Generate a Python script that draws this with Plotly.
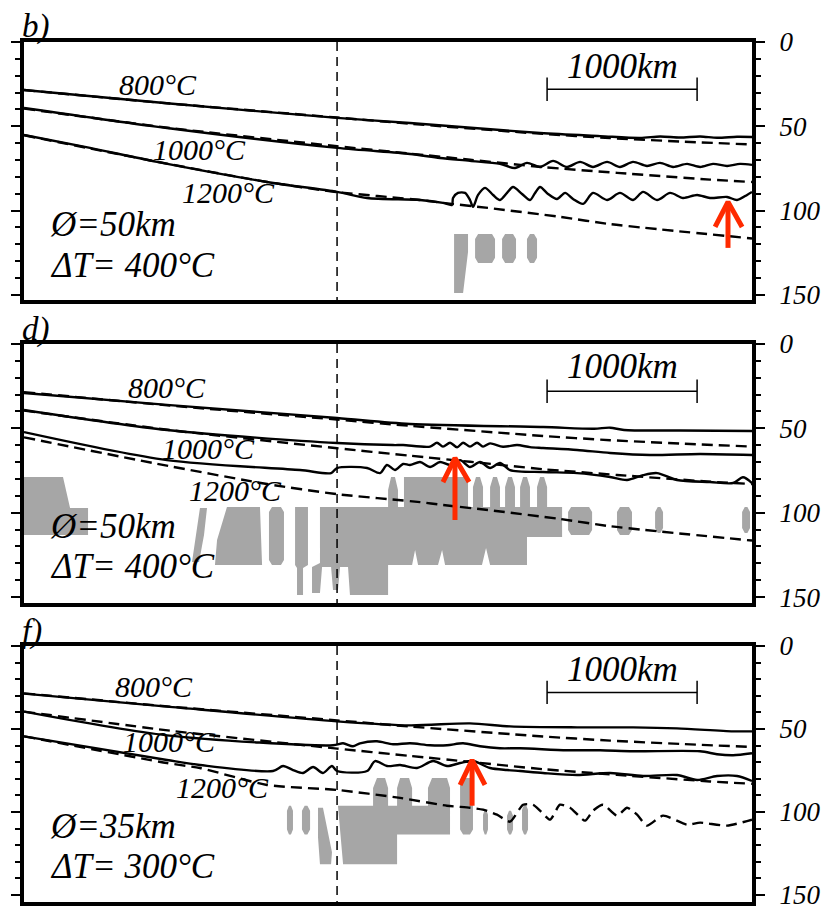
import plotly.graph_objects as go

W, H = 830, 912

# ------------------------------------------------------------------ data
X_MAX = 4853                      # km shown in each section
DEPTH_MAX = [153.0, 153.5, 154.2]  # km at bottom of each panel
MAJOR_TICKS = [0, 50, 100, 150]
MINOR_TICKS = [0, 10, 20, 30, 40, 50, 60, 70, 80, 90, 100, 110, 120, 130, 140, 150]
DIVIDE_X = 2087                   # vertical dashed marker (km)
SCALE_BAR = [3487, 4487]          # 1000 km bar
SCALE_DEPTH = 28
SCALE_LABEL_DEPTH = [14.8, 13.6, 14.3]

panel_letters = ["b)", "d)", "f)"]
phi_labels = ["Ø=50km", "Ø=50km", "Ø=35km"]
dT_labels = ["ΔT= 400°C", "ΔT= 400°C", "ΔT= 300°C"]
iso_names = ["800°C", "1000°C", "1200°C"]

# reference (dashed) isotherms
ref800_x = [0, 973, 2087, 2573, 3460, 3907, 4373, 4853]
ref800_d = [28.5, 36.5, 44.8, 48.5, 54.5, 57.0, 59.0, 60.8]
ref1000_x = [0, 973, 2087, 2573, 2973, 3460, 3953, 4573, 4853]
ref1000_d = [39.5, 51.0, 61.8, 66.2, 69.8, 74.2, 77.6, 81.6, 83.0]
ref1200_x = [0, 887, 1620, 2087, 2640, 2793, 3093, 3573, 3907, 4853]
ref1200_d = [55.3, 71.0, 83.0, 89.0, 93.7, 95.4, 98.4, 103.7, 108.0, 116.5]

# ---- panel b
b_800_x = [0, 953, 2087, 2573, 3440, 3840, 4107, 4240, 4373, 4507, 4620, 4753, 4853]
b_800_d = [28.5, 36.3, 45.0, 48.0, 54.0, 55.8, 56.9, 56.0, 56.6, 56.0, 56.8, 56.2, 56.3]
b_1000_x = [0, 953, 2087, 2573, 2773, 2973, 3173, 3273, 3353, 3440, 3527, 3620, 3707,
            3793, 3887, 3973, 4060, 4153, 4240, 4327, 4420, 4507, 4593, 4687, 4773, 4853]
b_1000_d = [39.1, 51.0, 62.8, 66.4, 68.8, 70.5, 72.3, 74.7, 71.7, 74.1, 70.5, 74.1, 71.1,
            74.1, 71.1, 74.1, 71.1, 73.5, 71.7, 74.1, 72.3, 74.1, 72.3, 73.5, 72.3, 72.9]
b_1200_x = [0, 440, 887, 1620, 2087, 2287, 2640, 2793, 2853, 2860, 2893, 2940, 2973, 2993,
            3027, 3073, 3127, 3173, 3220, 3260, 3320, 3373, 3407, 3440, 3493, 3553, 3607,
            3660, 3727, 3793, 3887, 3973, 4060, 4127, 4220, 4307, 4393, 4487, 4573, 4687,
            4753, 4820, 4853]
b_1200_d = [55.1, 62.8, 71.1, 83.0, 88.9, 92.5, 93.7, 95.4, 96.6, 92.5, 89.5, 89.5, 93.7, 97.8,
            90.7, 86.5, 90.7, 93.7, 89.5, 86.0, 90.1, 93.7, 89.5, 86.0, 90.1, 93.1, 89.5,
            93.1, 96.0, 89.5, 93.7, 89.5, 93.7, 88.9, 93.7, 89.5, 92.5, 90.7, 92.5, 91.9,
            93.7, 90.7, 88.9]
b_blocks = [[3007, 3140, 113.8, 131.0], [3187, 3280, 113.8, 131.0], [3353, 3420, 113.8, 131.0]]
b_polys = [
    ([2867, 2960, 2960, 2927, 2867], [113.8, 113.8, 124.5, 148.8, 148.8]),
]
b_arrow = dict(x=4693, tail=122.1, tip=94.8, arm_x=[4607, 4787], arm_d=109.7)

# ---- panel d
d_800_x = [0, 973, 2087, 2573, 3460, 3800, 3907, 4000, 4373, 4853]
d_800_d = [29.0, 36.2, 43.9, 47.4, 49.2, 50.2, 49.6, 51.0, 51.3, 51.6]
d_1000_x = [0, 953, 2087, 2460, 2527, 2707, 2753, 2793, 2840, 2887, 2927, 2973, 3020, 3060,
            3107, 3193, 3287, 3373, 3460, 3687, 3907, 4173, 4507, 4853]
d_1000_d = [39.1, 51.0, 58.7, 59.9, 59.9, 60.8, 58.5, 60.8, 58.5, 61.2, 58.5, 60.8, 58.5, 60.8,
            58.9, 60.9, 59.9, 61.1, 61.6, 62.8, 64.6, 65.8, 65.2, 65.8]
d_1200_x = [0, 953, 1840, 2047, 2087, 2287, 2373, 2420, 2473, 2527, 2573, 2640, 2707, 2773,
            2840, 2907, 2973, 3040, 3107, 3173, 3240, 3460, 3687, 3907, 4020, 4127, 4220,
            4353, 4573, 4727, 4793, 4853]
d_1200_d = [52.2, 68.8, 74.7, 76.5, 73.5, 73.5, 76.5, 71.7, 74.7, 71.1, 71.7, 69.9, 72.9, 69.9,
            71.7, 68.8, 72.9, 69.9, 73.5, 70.5, 74.7, 75.9, 76.5, 78.8, 80.6, 77.7, 76.5,
            80.6, 81.8, 82.4, 79.0, 82.4]
d_blocks = [[1633, 1733, 96.6, 131.0], [3627, 3787, 96.6, 113.2], [3953, 4053, 96.6, 113.2],
            [4207, 4260, 96.6, 112.0], [4787, 4840, 96.6, 112.0]]
d_polys = [
    ([0, 260, 307, 427, 427, 0], [78.8, 78.8, 97.2, 97.2, 113.2, 113.2]),
    ([1173, 1220, 1200, 1167, 1120, 1147], [97.2, 97.2, 113.2, 129.2, 129.2, 113.2]),
    ([1353, 1573, 1587, 1273, 1287], [96.6, 96.6, 131.0, 131.0, 116.2]),
    ([1807, 1893, 1893, 1860, 1860, 1820, 1820, 1807],
     [96.6, 96.6, 131.0, 132.8, 148.8, 148.8, 132.8, 131.0]),
    ([1973, 2427, 2427, 2447, 2473, 2493, 2493, 2533, 2533, 2960, 2960,
      2993, 2993, 3013, 3040, 3060, 3060,
      3107, 3107, 3127, 3153, 3173, 3173,
      3207, 3207, 3227, 3253, 3273, 3273,
      3307, 3307, 3327, 3353, 3373, 3373,
      3420, 3420, 3440, 3467, 3487, 3487,
      3587, 3587, 3353, 3353, 3107, 3080, 3053, 2807, 2787, 2760, 2627, 2607, 2587,
      2427, 2427, 2173, 2160, 2107, 2093, 2060, 2047, 1987, 1973, 1920, 1920, 1973],
     [96.6, 96.6, 86.5, 78.8, 78.8, 86.5, 96.6, 96.6, 78.8, 78.8, 96.6,
      96.6, 84.8, 78.8, 78.8, 84.8, 96.6,
      96.6, 84.8, 78.8, 78.8, 84.8, 96.6,
      96.6, 84.8, 78.8, 78.8, 84.8, 96.6,
      96.6, 84.8, 78.8, 78.8, 84.8, 96.6,
      96.6, 84.8, 78.8, 78.8, 84.8, 96.6,
      96.6, 114.4, 114.4, 131.0, 131.0, 120.9, 131.0, 131.0, 122.1, 131.0, 131.0, 122.1, 131.0,
      131.0, 148.8, 148.8, 132.2, 132.2, 145.8, 145.8, 132.2, 132.2, 147.6, 147.6, 132.2, 129.8]),
]
d_arrow = dict(x=2873, tail=104.3, tip=67.6, arm_x=[2793, 2967], arm_d=81.8)

# ---- panel f
f_800_x = [0, 953, 2087, 2573, 2973, 3240, 3687, 4060, 4353, 4727, 4853]
f_800_d = [28.7, 36.5, 45.4, 47.8, 46.6, 48.4, 49.0, 49.0, 49.6, 51.4, 51.4]
f_1000_x = [0, 953, 2060, 2127, 2193, 2240, 2353, 2460, 2573, 2707, 2820, 2927, 3040, 3173,
            3307, 3620, 3840, 4060, 4507, 4620, 4727, 4853]
f_1000_d = [39.5, 53.8, 59.8, 58.6, 60.4, 58.6, 57.4, 59.2, 58.6, 59.8, 59.8, 58.6, 60.4, 61.6,
            61.6, 62.8, 62.8, 63.4, 63.4, 65.2, 65.8, 64.6]
f_1200_x = [0, 953, 1173, 1660, 1727, 1793, 1860, 1927, 1993, 2053, 2087, 2287, 2340, 2420,
            2507, 2620, 2727, 2820, 2907, 2993, 3107, 3220, 3307, 3460, 3687, 3907, 4127,
            4353, 4487, 4620, 4753, 4853]
f_1200_d = [54.4, 68.7, 71.7, 75.3, 72.3, 74.7, 76.5, 72.9, 76.5, 72.3, 75.3, 75.3, 69.3, 72.3,
            71.7, 73.5, 69.3, 72.3, 70.5, 69.3, 73.5, 74.7, 75.3, 76.5, 77.7, 76.5, 78.3,
            77.7, 80.7, 78.3, 78.3, 81.3]
f_ref1200_x = [0, 953, 1173, 1620, 2087, 2507, 2820, 2973, 3060, 3153, 3240, 3327, 3393, 3440,
               3507, 3573, 3640, 3740, 3793, 3860, 3953, 4020, 4087, 4153, 4260, 4420, 4507,
               4687, 4853]
f_ref1200_d = [54.4, 70.5, 73.5, 83.7, 86.7, 91.5, 96.2, 97.4, 98.6, 101.6, 105.8, 95.6, 95.6,
               99.2, 104.6, 95.6, 97.4, 105.2, 99.2, 95.6, 102.2, 97.4, 101.6, 108.2, 102.2,
               107.6, 106.4, 108.2, 104.6]
f_blocks = [[1753, 1793, 96.2, 113.6], [1853, 1907, 96.2, 113.6], [2907, 2993, 79.5, 113.6],
            [3060, 3093, 98.6, 113.6], [3220, 3260, 99.2, 113.6], [3320, 3360, 95.6, 113.6]]
f_polys = [
    ([1960, 1993, 2053, 2047, 1973, 1960], [97.4, 97.4, 124.3, 131.5, 131.5, 115.4]),
    ([2093, 2327, 2327, 2353, 2407, 2427, 2427, 2487, 2487, 2507, 2567, 2587, 2587, 2693,
      2693, 2720, 2820, 2840, 2840, 2487, 2487, 2127],
     [96.2, 96.2, 85.5, 79.5, 79.5, 85.5, 96.2, 96.2, 85.5, 79.5, 79.5, 85.5, 96.2, 96.2,
      85.5, 79.5, 79.5, 85.5, 113.6, 113.6, 131.5, 131.5]),
]
f_arrow = dict(x=2987, tail=96.2, tip=68.7, arm_x=[2907, 3073], arm_d=83.7)

# label positions (x km, depth km)
iso_label_pos = [
    [(893, 25.5), (1173, 64.0), (1360, 89.0)],
    [(953, 26.0), (1227, 62.2), (1413, 87.0)],
    [(867, 24.5), (967, 57.4), (1320, 85.0)],
]
param_label_x = 160
phi_depth = [108.5, 108.0, 108.8]
dT_depth = [132.8, 132.0, 132.7]

# ------------------------------------------------------------------ layout geometry
BOX_L, BOX_R = 24, 752
PANEL_PX = [(42, 300), (344, 603), (646, 902)]
LETTER_Y = [26, 329, 631]

GREY = "#a6a6a6"
RED = "#ff2a00"
FONT = "Liberation Serif"

panels = [
    dict(solid=[(b_800_x, b_800_d), (b_1000_x, b_1000_d), (b_1200_x, b_1200_d)],
         dashed=[(ref800_x, ref800_d), (ref1000_x, ref1000_d), (ref1200_x, ref1200_d)],
         blocks=b_blocks, polys=b_polys, arrow=b_arrow),
    dict(solid=[(d_800_x, d_800_d), (d_1000_x, d_1000_d), (d_1200_x, d_1200_d)],
         dashed=[(ref800_x, ref800_d), (ref1000_x, ref1000_d), (ref1200_x, ref1200_d)],
         blocks=d_blocks, polys=d_polys, arrow=d_arrow),
    dict(solid=[(f_800_x, f_800_d), (f_1000_x, f_1000_d), (f_1200_x, f_1200_d)],
         dashed=[(ref800_x, ref800_d), (ref1000_x, ref1000_d), (f_ref1200_x, f_ref1200_d)],
         blocks=f_blocks, polys=f_polys, arrow=f_arrow),
]


def octagon(x0, x1, d0, d1, bx=20, bd=3):
    bx = min(bx, (x1 - x0) / 3)
    return ([x0 + bx, x1 - bx, x1, x1, x1 - bx, x0 + bx, x0, x0, x0 + bx],
            [d0, d0, d0 + bd, d1 - bd, d1, d1, d1 - bd, d0 + bd, d0])


fig = go.Figure()
annotations = []
layout_axes = {}

for i, p in enumerate(panels):
    s = "" if i == 0 else str(i + 1)
    xa, ya = "x" + s, "y" + s

    # grey regions
    gx, gy = [], []
    for blk in p["blocks"]:
        ox, oy = octagon(*blk)
        gx += ox + [None]
        gy += oy + [None]
    for px_, py_ in p["polys"]:
        gx += list(px_) + [px_[0], None]
        gy += list(py_) + [py_[0], None]
    fig.add_trace(go.Scatter(x=gx, y=gy, mode="lines", fill="toself", fillcolor=GREY,
                             line=dict(width=0, color=GREY), xaxis=xa, yaxis=ya,
                             hoverinfo="skip", showlegend=False))

    # vertical dashed marker
    fig.add_trace(go.Scatter(x=[DIVIDE_X, DIVIDE_X], y=[0, DEPTH_MAX[i]], mode="lines",
                             line=dict(color="black", width=1.5, dash="9px,6px"),
                             xaxis=xa, yaxis=ya, hoverinfo="skip", showlegend=False))

    # dashed reference isotherms
    for dx, dd in p["dashed"]:
        fig.add_trace(go.Scatter(x=dx, y=dd, mode="lines",
                                 line=dict(color="black", width=2.4, dash="11px,6px",
                                           shape="spline", smoothing=0.6),
                                 xaxis=xa, yaxis=ya, hoverinfo="skip", showlegend=False))
    # solid isotherms
    for sx, sd in p["solid"]:
        fig.add_trace(go.Scatter(x=sx, y=sd, mode="lines",
                                 line=dict(color="black", width=2.4, shape="spline", smoothing=0.8),
                                 xaxis=xa, yaxis=ya, hoverinfo="skip", showlegend=False))

    # scale bar
    fig.add_trace(go.Scatter(
        x=[SCALE_BAR[0], SCALE_BAR[1], None, SCALE_BAR[0], SCALE_BAR[0], None, SCALE_BAR[1], SCALE_BAR[1]],
        y=[SCALE_DEPTH, SCALE_DEPTH, None, SCALE_DEPTH - 7, SCALE_DEPTH + 7, None, SCALE_DEPTH - 7, SCALE_DEPTH + 7],
        mode="lines", line=dict(color="black", width=1.5),
        xaxis=xa, yaxis=ya, hoverinfo="skip", showlegend=False))

    # red arrow
    a = p["arrow"]
    fig.add_trace(go.Scatter(
        x=[a["x"], a["x"], None, a["arm_x"][0], a["x"], a["arm_x"][1]],
        y=[a["tail"], a["tip"] + 1.5, None, a["arm_d"], a["tip"], a["arm_d"]],
        mode="lines", line=dict(color=RED, width=5),
        xaxis=xa, yaxis=ya, hoverinfo="skip", showlegend=False))

    top_px, bot_px = PANEL_PX[i]
    layout_axes["xaxis" + s] = dict(
        domain=[BOX_L / W, BOX_R / W], range=[0, X_MAX], anchor=ya, automargin=False,
        showline=True, mirror=True, linewidth=4, linecolor="black",
        showticklabels=False, ticks="", showgrid=False, zeroline=False, fixedrange=True)
    layout_axes["yaxis" + s] = dict(
        domain=[1 - bot_px / H, 1 - top_px / H], range=[DEPTH_MAX[i], 0], anchor=xa,
        automargin=False, ticklabeloverflow="allow",
        side="right", showline=True, mirror="ticks", linewidth=4, linecolor="black",
        tickmode="array", tickvals=MAJOR_TICKS, ticktext=[str(t) for t in MAJOR_TICKS],
        ticks="outside", ticklen=9, tickwidth=2, tickcolor="black",
        minor=dict(tickmode="array", tickvals=MINOR_TICKS, ticks="outside",
                   ticklen=5, tickwidth=1.5, tickcolor="black", showgrid=False),
        tickfont=dict(family=FONT, size=27, color="black", style="italic"),
        ticklabelstandoff=9, showgrid=False, zeroline=False, fixedrange=True)

    # text
    for name, (lx, ld) in zip(iso_names, iso_label_pos[i]):
        annotations.append(dict(x=lx, y=ld, xref=xa, yref=ya, text=name, showarrow=False,
                                xanchor="center", yanchor="middle",
                                font=dict(family=FONT, size=30, color="black", style="italic")))
    annotations.append(dict(x=param_label_x, y=phi_depth[i], xref=xa, yref=ya, text=phi_labels[i],
                            showarrow=False, xanchor="left", yanchor="middle",
                            font=dict(family=FONT, size=35, color="black", style="italic")))
    annotations.append(dict(x=param_label_x, y=dT_depth[i], xref=xa, yref=ya, text=dT_labels[i],
                            showarrow=False, xanchor="left", yanchor="middle",
                            font=dict(family=FONT, size=35, color="black", style="italic")))
    annotations.append(dict(x=(SCALE_BAR[0] + SCALE_BAR[1]) / 2, y=SCALE_LABEL_DEPTH[i],
                            xref=xa, yref=ya, text="1000km", showarrow=False,
                            xanchor="center", yanchor="middle",
                            font=dict(family=FONT, size=35, color="black", style="italic")))
    annotations.append(dict(x=20 / W, y=1 - LETTER_Y[i] / H, xref="paper", yref="paper",
                            text=panel_letters[i], showarrow=False, xanchor="left", yanchor="middle",
                            font=dict(family=FONT, size=33, color="black", style="italic")))

fig.update_layout(
    width=W, height=H, margin=dict(l=0, r=0, t=0, b=0, pad=0, autoexpand=False),
    paper_bgcolor="white", plot_bgcolor="white", showlegend=False,
    annotations=annotations, **layout_axes)

fig.write_html("out.html", config={"displayModeBar": False})
